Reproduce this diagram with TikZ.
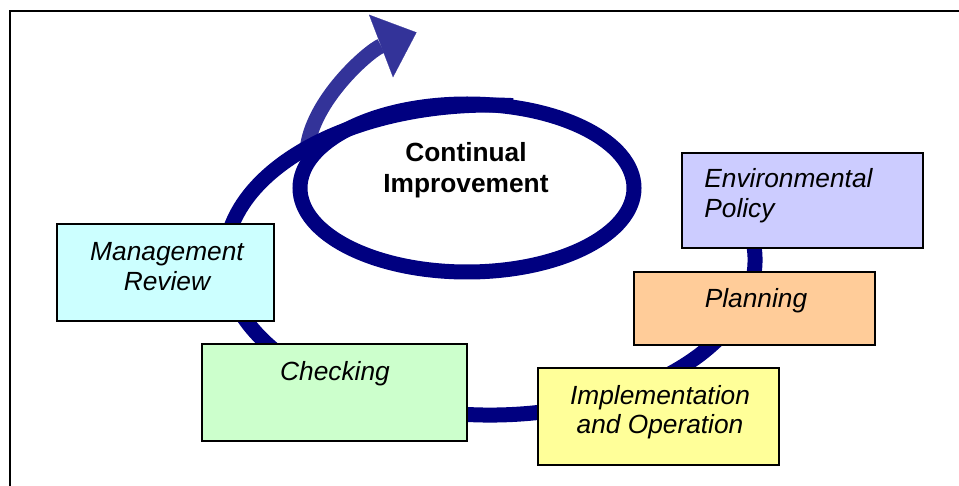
\documentclass[tikz,border=0pt]{standalone}
\usepackage{fontspec}
\setmainfont{Liberation Sans}
\usetikzlibrary{arrows.meta}
\definecolor{navyloop}{HTML}{000080}
\definecolor{arrowblue}{HTML}{333399}
\definecolor{cyanbox}{HTML}{CCFFFF}
\definecolor{greenbox}{HTML}{CCFFCC}
\definecolor{violetbox}{HTML}{CCCCFF}
\definecolor{orangebox}{HTML}{FFCC99}
\definecolor{yellowbox}{HTML}{FFFF99}
\begin{document}
\begin{tikzpicture}[x=0.5pt,y=-0.5pt,
  stagebox/.style={draw=black, line width=0.6pt, inner sep=0pt, outer sep=0pt},
  stagetext/.style={inner sep=0pt, anchor=base, font=\fontsize{13.15pt}{14.75pt}\selectfont\itshape},
  titletext/.style={inner sep=0pt, anchor=base, font=\fontsize{13.15pt}{15.5pt}\selectfont\bfseries},
  loopline/.style={draw=navyloop, line width=7.5pt, line cap=butt},
  upArrow/.style={draw=arrowblue, line width=7.5pt, line cap=butt,
     -{Triangle[length=19pt,width=33.5pt,line width=0.1pt,fill=arrowblue]}},
  frameline/.style={draw=black, line width=1pt}
]
\useasboundingbox (0,0) rectangle (959,486);
% frame (top and left edges)
\draw[frameline] (10,486) -- (10,11.3) -- (959,11.3);

% improvement arrow (behind the loop)
\coordinate (arrStart) at (307,150);
\coordinate (arrTip) at (416.5,32.4);
\draw[upArrow] (arrStart) .. controls (312,100) and (369.5,50.4) .. (arrTip);

% continual improvement loop
\coordinate (loopStart) at (739,207);
\draw[loopline] (loopStart) arc[start angle=-20, end angle=275, x radius=265, y radius=155];
\coordinate (ellc) at (467,188);
\draw[loopline] (ellc) ellipse[x radius=167, y radius=84];

% stage boxes
\node[stagebox, fill=cyanbox,   minimum width=108.5pt, minimum height=48.5pt] (mr)  at (165.5,272.5) {};
\node[stagebox, fill=greenbox,  minimum width=132.5pt, minimum height=48.5pt] (chk) at (334.5,392.5) {};
\node[stagebox, fill=violetbox, minimum width=120.5pt, minimum height=47.5pt] (ep)  at (802.5,200.5) {};
\node[stagebox, fill=orangebox, minimum width=120.5pt, minimum height=36.5pt] (pl)  at (754.5,308.5) {};
\node[stagebox, fill=yellowbox, minimum width=120.5pt, minimum height=48.5pt] (io)  at (658.5,416.5) {};

% texts
\node[titletext] (ci) at (466,162) {\begin{tabular}[t]{@{}c@{}}Continual\\Improvement\end{tabular}};
\node[stagetext] (mrt) at (167,261) {\begin{tabular}[t]{@{}c@{}}Management\\Review\end{tabular}};
\node[stagetext] (chkt) at (335,380) {Checking};
\node[stagetext, anchor=base west] (ept) at (704,188) {\begin{tabular}[t]{@{}l@{}}Environmental\\Policy\end{tabular}};
\node[stagetext] (plt) at (756,308) {Planning};
\node[stagetext] (iot) at (660,404) {\begin{tabular}[t]{@{}c@{}}Implementation\\and Operation\end{tabular}};
\end{tikzpicture}
\end{document}
